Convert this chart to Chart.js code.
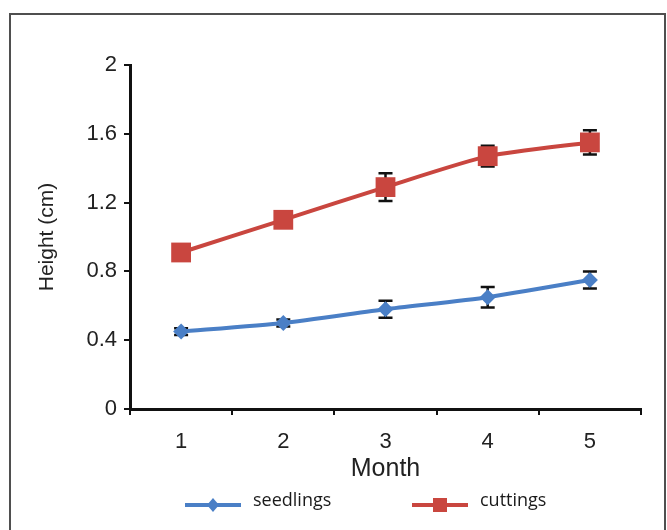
<!DOCTYPE html>
<html>
<head>
<meta charset="utf-8">
<script src="https://cdn.jsdelivr.net/npm/chart.js@4.4.1/dist/chart.umd.min.js"></script>
<style>
  html, body { margin: 0; padding: 0; background: #fff; }
  #wrap { position: relative; width: 667px; height: 530px; overflow: hidden; }
  #frame {
    position: absolute; left: 9px; top: 13px; width: 653px; height: 600px;
    border: 2px solid #4f4f4f; box-sizing: content-box;
  }
  canvas { position: absolute; left: 0; top: 0; }
</style>
</head>
<body>
<div id="wrap">
  <div id="frame"></div>
  <canvas id="chart" width="667" height="530"></canvas>
</div>
<script>
// data
const months = ['1', '2', '3', '4', '5'];
const seedlings = [0.45, 0.50, 0.58, 0.65, 0.75];
const seedlingsErr = [0.02, 0.02, 0.05, 0.06, 0.05];
const cuttings = [0.91, 1.10, 1.29, 1.47, 1.55];
const cuttingsErr = [0.03, 0.04, 0.08, 0.06, 0.07];

const blue = '#4a7fc6';
const red = '#c9463f';

// error bars, drawn under the markers
const errorBars = {
  id: 'errorBars',
  beforeDatasetsDraw(chart) {
    const ctx = chart.ctx;
    const y = chart.scales.y;
    ctx.save();
    ctx.strokeStyle = '#111';
    ctx.lineWidth = 2.5;
    chart.data.datasets.forEach((ds, i) => {
      const meta = chart.getDatasetMeta(i);
      ds.errors.forEach((e, j) => {
        const pt = meta.data[j];
        const top = y.getPixelForValue(ds.data[j] + e);
        const bot = y.getPixelForValue(ds.data[j] - e);
        ctx.beginPath();
        ctx.moveTo(pt.x, top); ctx.lineTo(pt.x, bot);
        ctx.moveTo(pt.x - 7, top); ctx.lineTo(pt.x + 7, top);
        ctx.moveTo(pt.x - 7, bot); ctx.lineTo(pt.x + 7, bot);
        ctx.stroke();
      });
    });
    ctx.restore();
  }
};

// legend with line + marker, like the spreadsheet one
const lineLegend = {
  id: 'lineLegend',
  afterDraw(chart) {
    const ctx = chart.ctx;
    const spots = [185, 412];
    ctx.save();
    chart.data.datasets.forEach((ds, i) => {
      const x0 = spots[i], yy = 505;
      ctx.strokeStyle = ds.borderColor;
      ctx.lineWidth = 4;
      ctx.beginPath();
      ctx.moveTo(x0, yy); ctx.lineTo(x0 + 56, yy);
      ctx.stroke();
      ctx.fillStyle = ds.backgroundColor;
      const cx = x0 + 28;
      if (ds.pointStyle === 'rect') {
        ctx.fillRect(cx - 7, yy - 7, 14, 14);
      } else {
        ctx.beginPath();
        ctx.moveTo(cx, yy - 7); ctx.lineTo(cx + 6, yy);
        ctx.lineTo(cx, yy + 7); ctx.lineTo(cx - 6, yy);
        ctx.closePath(); ctx.fill();
      }
      ctx.fillStyle = '#1a1a1a';
      ctx.font = '18px "Open Sans"';
      ctx.textBaseline = 'middle';
      ctx.fillText(ds.label, x0 + 68, yy - 4);
    });
    ctx.restore();
  }
};

new Chart(document.getElementById('chart'), {
  type: 'line',
  data: {
    labels: months,
    datasets: [
      {
        label: 'seedlings',
        data: seedlings,
        errors: seedlingsErr,
        borderColor: blue,
        backgroundColor: blue,
        borderWidth: 4,
        pointStyle: 'rectRot',
        pointRadius: 8,
        pointBorderWidth: 0,
        tension: 0.2
      },
      {
        label: 'cuttings',
        data: cuttings,
        errors: cuttingsErr,
        borderColor: red,
        backgroundColor: red,
        borderWidth: 4,
        pointStyle: 'rect',
        pointRadius: 14,
        pointBorderWidth: 0,
        tension: 0.2
      }
    ]
  },
  options: {
    responsive: false,
    animation: false,
    layout: { padding: { left: 0, right: 26, top: 65, bottom: 0 } },
    plugins: {
      legend: { display: false },
      tooltip: { enabled: false }
    },
    scales: {
      x: {
        offset: true,
        afterFit: s => { s.height = 121; },
        grid: {
          offset: true,
          drawOnChartArea: false,
          color: '#111',
          lineWidth: 2,
          tickLength: 6
        },
        border: { color: '#111', width: 3 },
        ticks: {
          color: '#222',
          padding: 14,
          font: { family: 'Liberation Sans', size: 22 }
        },
        title: {
          display: true,
          text: 'Month',
          color: '#222',
          padding: { top: 0, bottom: 46 },
          font: { family: 'Liberation Sans', size: 25 }
        }
      },
      y: {
        min: 0,
        max: 2,
        afterFit: s => { s.width = 130; },
        ticks: {
          stepSize: 0.4,
          color: '#222',
          padding: 7,
          font: { family: 'Liberation Sans', size: 22 },
          callback: v => String(Number(v.toFixed(1)))
        },
        grid: {
          drawOnChartArea: false,
          color: '#111',
          lineWidth: 2,
          tickLength: 6
        },
        border: { color: '#111', width: 3 },
        title: {
          display: true,
          text: 'Height (cm)',
          color: '#222',
          padding: { top: 35, bottom: 0 },
          font: { family: 'Liberation Sans', size: 21 }
        }
      }
    }
  },
  plugins: [errorBars, lineLegend]
});
</script>
</body>
</html>
